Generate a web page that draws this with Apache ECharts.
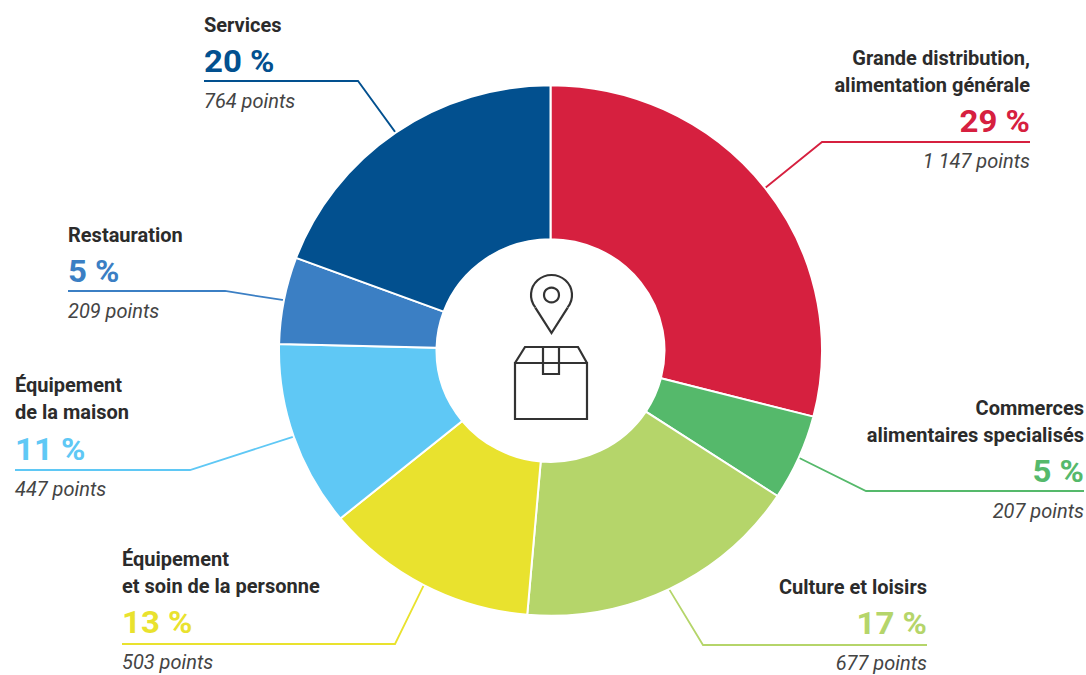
<!DOCTYPE html>
<html>
<head>
<meta charset="utf-8">
<style>
html,body{margin:0;padding:0;background:#fff;overflow:hidden}
/* Anneau légèrement aplati : le tracé est compressé verticalement */
#chart{width:1086px;height:691px;transform:scaleY(.977);transform-origin:0 0}
</style>
<script src="https://cdn.jsdelivr.net/npm/echarts@6/dist/echarts.min.js"></script>
</head>
<body>
<div id="chart"></div>
<script>
// Points de vente par secteur d'activité
const categories = [
  'Grande distribution,\nalimentation générale',
  'Commerces\nalimentaires specialisés',
  'Culture et loisirs',
  'Équipement\net soin de la personne',
  'Équipement\nde la maison',
  'Restauration',
  'Services'
];
const points = [1147, 207, 677, 503, 447, 209, 764];
const percents = [29, 5, 17, 13, 11, 5, 20];
const pointLabels = ['1 147', '207', '677', '503', '447', '209', '764'];
const colors = ['#d6203f', '#55b96b', '#b5d56a', '#e9e22e', '#5fc8f5', '#3b7fc4', '#02508f'];

// Ancrage de chaque étiquette : bord du texte, haut du bloc, coude et fin du filet
const labelX = [1030, 1084, 927, 122, 15, 68, 204];
const labelTop = [45, 395, 574, 546, 372.5, 222, 12];
const labelAlign = ['right', 'right', 'right', 'left', 'left', 'left', 'left'];
const elbow = [[822, 142], [866, 491], [703, 645], [395, 644], [190, 470], [225, 291], [358, 81]];

// Passage des ordonnées de la page à celles du tracé compressé
const FLATTEN = 0.977;
const Y = (y) => y / FLATTEN;

const CX = 550.5, CY = Y(350.5), R_OUT = 271.5, R_IN = 114;
const FONT = 'Roboto, sans-serif';

const chart = echarts.init(document.getElementById('chart'), null, { renderer: 'svg' });

const richFor = (color) => ({
  name: { fontFamily: FONT, fontWeight: 700, fontSize: 20, lineHeight: 27.5, color: '#2b2b2b' },
  pct: { fontFamily: FONT, fontWeight: 700, fontSize: 33, lineHeight: 46, color },
  pts: { fontFamily: FONT, fontStyle: 'italic', fontSize: 20, lineHeight: 37, color: '#444' }
});

const seriesData = categories.map((name, i) => ({
  name,
  value: points[i],
  itemStyle: { color: colors[i] },
  labelLine: { lineStyle: { color: colors[i], width: 1.8 } },
  label: {
    rich: richFor(colors[i]),
    formatter: () => name.split('\n').map(t => '{name|' + t + '}').join('\n') +
      '\n{pct|' + percents[i] + ' %}\n{pts|' + pointLabels[i] + ' points}'
  }
}));

const stroke = { stroke: '#333', lineWidth: 2.2, fill: 'none' };
const pt = (x, y) => [x, Y(y)];

chart.setOption({
  animation: false,
  backgroundColor: '#fff',
  series: [{
    type: 'pie',
    center: [CX, CY],
    radius: [R_IN, R_OUT],
    startAngle: 90,
    clockwise: true,
    silent: true,
    avoidLabelOverlap: false,
    itemStyle: { borderColor: '#fff', borderWidth: 2 },
    label: { show: true, position: 'outside' },
    labelLine: { show: true, smooth: false },
    labelLayout: (p) => {
      const i = p.dataIndex;
      const start = p.labelLinePoints[0];
      return {
        x: labelX[i],
        y: Y(labelTop[i]),
        align: labelAlign[i],
        verticalAlign: 'top',
        labelLinePoints: [start, pt(elbow[i][0], elbow[i][1]), pt(labelX[i], elbow[i][1])]
      };
    },
    data: seriesData
  }],
  // Pictogramme central : repère et colis
  graphic: [
    { type: 'arc', shape: { cx: 551.5, cy: Y(295), r: 20.5, startAngle: 142 * Math.PI / 180, endAngle: 38 * Math.PI / 180, clockwise: true }, style: stroke },
    { type: 'polyline', shape: { points: [pt(535.3, 307.6), pt(551.5, 333), pt(567.7, 307.6)] }, style: stroke },
    { type: 'circle', shape: { cx: 551.5, cy: Y(295), r: 7.5 }, style: stroke },
    { type: 'rect', shape: { x: 515, y: Y(363), width: 72, height: 56 / FLATTEN }, style: stroke },
    { type: 'polyline', shape: { points: [pt(515, 363), pt(525, 347), pt(578, 347), pt(587, 363)] }, style: stroke },
    { type: 'polyline', shape: { points: [pt(543, 347), pt(543, 374), pt(559, 374), pt(559, 347)] }, style: stroke }
  ]
});
</script>
</body>
</html>
